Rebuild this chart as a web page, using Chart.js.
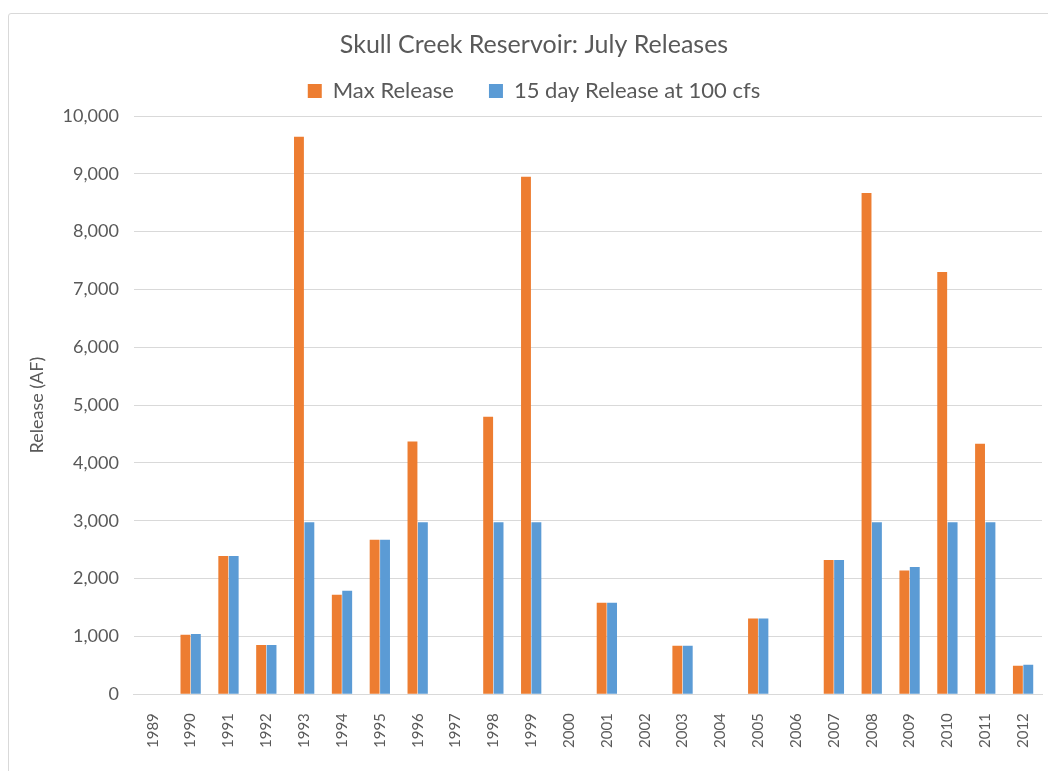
<!DOCTYPE html>
<html>
<head>
<meta charset="utf-8">
<script src="https://cdn.jsdelivr.net/npm/chart.js@4"></script>
<style>
  body { margin: 0; background: #ffffff; overflow: hidden; }
  #wrap {
    position: absolute;
    left: 8px;
    top: 13px;
    width: 1045px;
    height: 760px;
    border: 1px solid #d9d9d9;
    border-radius: 3px;
  }
</style>
</head>
<body>
<div id="wrap"><canvas id="releaseChart"></canvas></div>
<script>
// Skull Creek Reservoir July releases (AF)
const years = ['1989', '1990', '1991', '1992', '1993', '1994', '1995', '1996', '1997', '1998', '1999', '2000',
  '2001', '2002', '2003', '2004', '2005', '2006', '2007', '2008', '2009', '2010', '2011', '2012'];
const maxRelease = [null, 1030, 2390, 850, 9640, 1720, 2670, 4370, null, 4800, 8950, null,
  1580, null, 840, null, 1310, null, 2320, 8670, 2140, 7300, 4330, 490];
const release15day = [null, 1040, 2390, 850, 2975, 1790, 2670, 2975, null, 2975, 2975, null,
  1580, null, 840, null, 1310, null, 2320, 2975, 2200, 2975, 2975, 510];

const TEXT_COLOR = '#595959';
const FONT = 'Lato, "Open Sans", sans-serif';
const LEGEND_EXTRA = 4;

document.addEventListener('DOMContentLoaded', () => {
  renderChart();
});

// Trims the space under the legend (padding is wide for item spacing)
const legendSpacer = {
  id: 'legendSpacer',
  beforeInit(chart) {
    const originalFit = chart.legend.fit;
    chart.legend.fit = function fit() {
      originalFit.bind(chart.legend)();
      this.height += LEGEND_EXTRA;
    };
  }
};

function renderChart() {
  const ctx = document.getElementById('releaseChart');

  new Chart(ctx, {
    type: 'bar',
    data: {
      labels: years,
      datasets: [
        {
          label: 'Max Release',
          data: maxRelease,
          backgroundColor: '#ED7D31',
          categoryPercentage: 0.55,
          barPercentage: 0.95
        },
        {
          label: '15 day Release at 100 cfs',
          data: release15day,
          backgroundColor: '#5B9BD5',
          categoryPercentage: 0.55,
          barPercentage: 0.95
        }
      ]
    },
    options: {
      responsive: true,
      maintainAspectRatio: false,
      animation: false,
      layout: {
        padding: { left: 17, right: 12, top: 8, bottom: 15 }
      },
      plugins: {
        title: {
          display: true,
          text: 'Skull Creek Reservoir: July Releases',
          color: TEXT_COLOR,
          font: { family: FONT, size: 25, weight: 'normal' },
          padding: { top: 8, bottom: -15 }
        },
        legend: {
          position: 'top',
          labels: {
            color: TEXT_COLOR,
            font: { family: FONT, size: 22 },
            boxWidth: 14,
            boxHeight: 14,
            padding: 35
          }
        },
        tooltip: { enabled: false }
      },
      scales: {
        x: {
          grid: { display: false },
          border: { color: '#d9d9d9' },
          ticks: {
            color: TEXT_COLOR,
            font: { family: FONT, size: 15 },
            minRotation: 90,
            maxRotation: 90,
            padding: 11
          }
        },
        y: {
          min: 0,
          max: 10000,
          grid: { color: '#d9d9d9', drawTicks: false },
          border: { display: false },
          ticks: {
            stepSize: 1000,
            color: TEXT_COLOR,
            font: { family: FONT, size: 18 },
            padding: 15,
            callback: (value) => value.toLocaleString('en-US')
          },
          title: {
            display: true,
            text: 'Release (AF)',
            color: TEXT_COLOR,
            font: { family: FONT, size: 18 },
            padding: { top: 0, bottom: 0 }
          }
        }
      }
    },
    plugins: [legendSpacer]
  });
}
</script>
</body>
</html>
